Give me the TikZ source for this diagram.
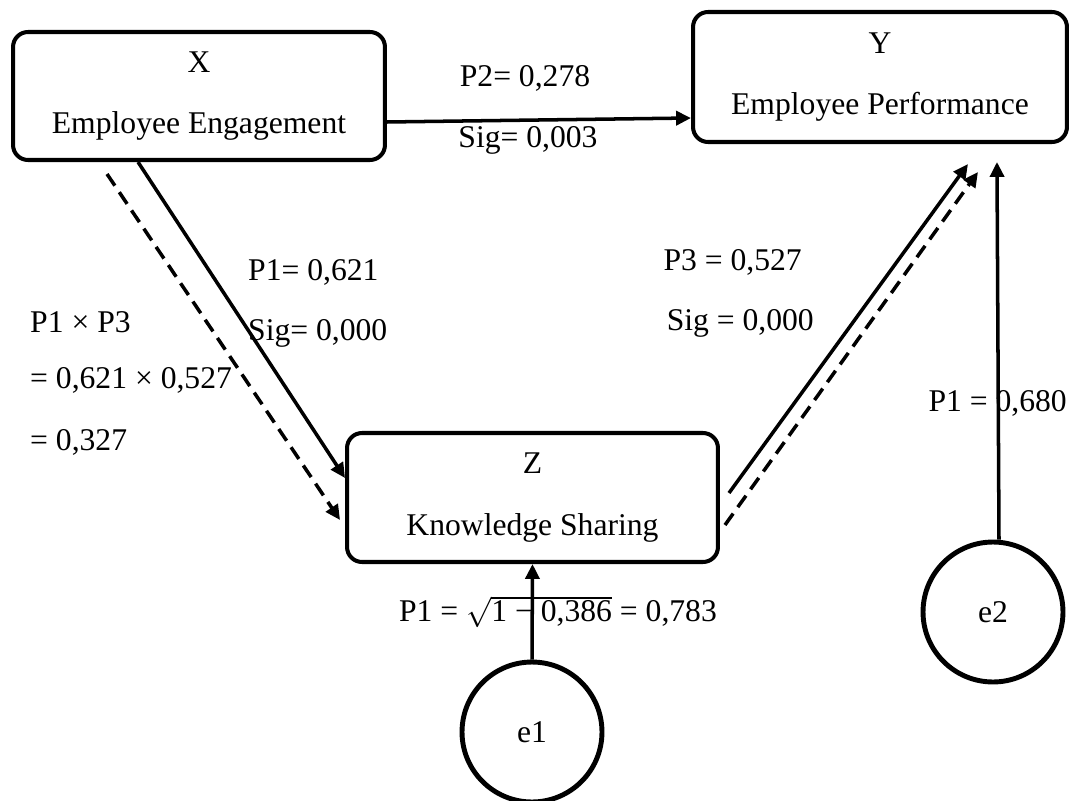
\documentclass[tikz,border=0pt]{standalone}
\usepackage{fontspec}
\setmainfont{Liberation Serif}
\usetikzlibrary{arrows.meta}

\begin{document}
\begin{tikzpicture}[x=0.02cm, y=-0.02cm,
  every node/.style={font=\fontsize{18}{21.6}\selectfont},
  varbox/.style={draw, rounded corners=0.3cm, line width=2.3pt, align=center,
    minimum width=7.44cm, minimum height=2.56cm, inner sep=0pt},
  errnode/.style={draw, circle, line width=2.8pt, minimum size=2.8cm, inner sep=0pt},
  arr/.style={line width=2pt, -{Triangle[length=8.5pt, width=8pt]}},
  indarr/.style={arr, dash pattern=on 8pt off 4.5pt}]
  % frame in pixel units of the original figure (y runs downwards)
  \useasboundingbox (0,0) rectangle (1082,801);

  % the three variables and the two error terms
  \node[varbox] (X) at (199,96) {X\\[13.5pt]Employee Engagement};
  \node[varbox, minimum width=7.48cm, minimum height=2.6cm] (Y) at (880,77)
    {Y\\[13.5pt]Employee Performance};
  \node[varbox, minimum width=7.42cm, minimum height=2.58cm] (Z) at (532.5,497.5)
    {Z\\[13.5pt]Knowledge Sharing};
  \node[errnode] (e1) at (532,732) {e1};
  \node[errnode] (e2) at (993,612) {e2};

  % direct paths
  \draw[arr] ([yshift=-0.52cm]X.east) -- ([yshift=-0.82cm]Y.west);
  \draw[arr] ([xshift=-1.22cm]X.south) -- ([yshift=0.39cm]Z.west);
  \draw[arr] ([xshift=0.18cm, yshift=0.09cm]Z.east) -- ([xshift=1.76cm, yshift=-0.4cm]Y.south);
  \draw[arr] (e1.north) -- (Z.south);
  \draw[arr] ([xshift=0.12cm]e2.north) -- ([xshift=2.34cm, yshift=-0.36cm]Y.south);

  % indirect path X -> Z -> Y
  \draw[indarr] ([xshift=-1.84cm, yshift=-0.24cm]X.south) -- ([xshift=-0.1cm, yshift=-0.45cm]Z.west);
  \draw[indarr] ([xshift=0.1cm, yshift=-0.55cm]Z.east) -- ([xshift=1.96cm, yshift=-0.56cm]Y.south);

  % coefficients
  \node (lblP2) at (525,78) {P2= 0,278};
  \node (lblSig2) at (528,140) {Sig= 0,003};
  \node[anchor=west] (lblP1) at (242,272) {P1= 0,621};
  \node[anchor=west] (lblSig1) at (242,333) {Sig= 0,000};
  \node[anchor=east] (lblP3) at (808,262) {P3 = 0,527};
  \node[anchor=east] (lblSig3) at (820,323) {Sig = 0,000};
  \node[anchor=west] (lblInd) at (24,322) {P1 × P3};
  \node[anchor=west] (lblIndB) at (24,380) {= 0,621 × 0,527};
  \node[anchor=west] (lblIndC) at (24,442) {= 0,327};
  \node[anchor=east] (lblE2) at (1073,403) {P1 = 0,680};
  \node (lblE1) at (558,612) {P1 = $\sqrt{\hbox{1 − 0,386}}$ = 0,783};
\end{tikzpicture}
\end{document}
